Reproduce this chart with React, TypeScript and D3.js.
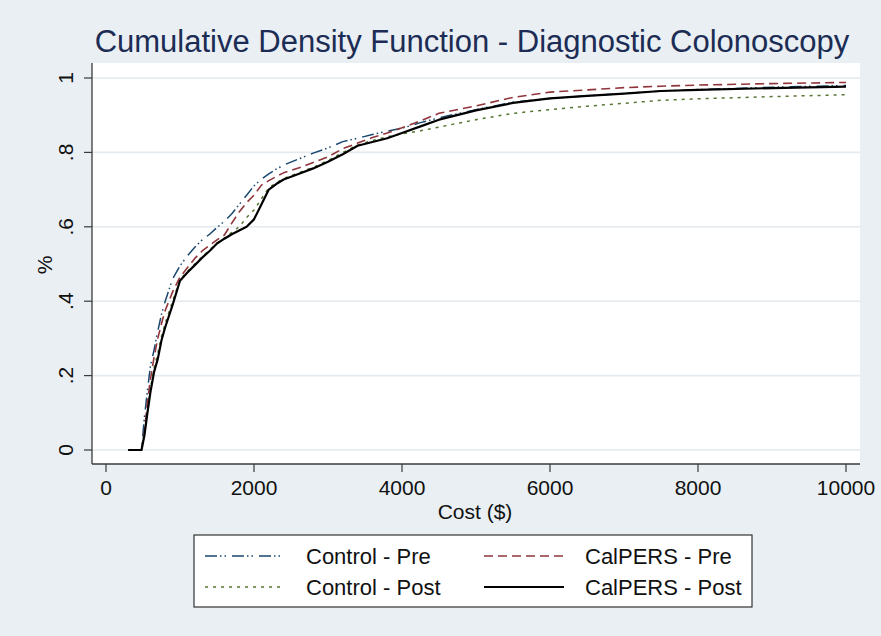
import React, {useRef, useEffect} from 'react';
import * as d3 from 'd3';

const W = 881;
const H = 636;
const FONT = '"Liberation Sans", Arial, Helvetica, sans-serif';

// cost grid ($) the curves were read at
const costs = [
  300, 480, 520, 560, 600, 650, 700, 750, 800, 900, 1000, 1100, 1200, 1300, 1400, 1500, 1600, 1700,
  1800, 1900, 2000, 2100, 2200, 2300, 2400, 2600, 2800, 3000, 3200, 3400, 3600, 3800, 4000, 4250,
  4500, 5000, 5500, 6000, 6500, 7000, 7500, 8000, 9000, 10000,
];

const controlPre = [
  0, 0, 0.09, 0.16, 0.225, 0.27, 0.32, 0.365, 0.4, 0.46, 0.495, 0.522, 0.545, 0.565, 0.58, 0.598,
  0.615, 0.635, 0.66, 0.685, 0.71, 0.728, 0.742, 0.755, 0.766, 0.782, 0.798, 0.812, 0.829, 0.838,
  0.848, 0.857, 0.865, 0.88, 0.893, 0.915, 0.935, 0.945, 0.952, 0.958, 0.965, 0.969, 0.975, 0.98,
];
const controlPost = [
  0, 0, 0.05, 0.11, 0.165, 0.22, 0.26, 0.305, 0.34, 0.4, 0.458, 0.48, 0.5, 0.52, 0.538, 0.556,
  0.57, 0.585, 0.6, 0.625, 0.645, 0.675, 0.705, 0.718, 0.73, 0.745, 0.76, 0.778, 0.8, 0.82, 0.832,
  0.842, 0.85, 0.858, 0.868, 0.888, 0.905, 0.915, 0.924, 0.932, 0.94, 0.944, 0.95, 0.955,
];
const calpersPre = [
  0, 0, 0.05, 0.13, 0.19, 0.25, 0.3, 0.34, 0.375, 0.425, 0.465, 0.49, 0.515, 0.535, 0.55, 0.565,
  0.578, 0.61, 0.64, 0.665, 0.685, 0.712, 0.724, 0.735, 0.745, 0.758, 0.773, 0.788, 0.81, 0.825,
  0.84, 0.852, 0.866, 0.885, 0.905, 0.925, 0.948, 0.962, 0.968, 0.974, 0.978, 0.981, 0.985, 0.988,
];
const calpersPost = [
  0, 0, 0.04, 0.1, 0.155, 0.21, 0.245, 0.295, 0.33, 0.39, 0.455, 0.477, 0.497, 0.517, 0.535, 0.555,
  0.568, 0.58, 0.59, 0.6, 0.62, 0.66, 0.7, 0.715, 0.727, 0.742, 0.757, 0.775, 0.795, 0.818, 0.828,
  0.838, 0.852, 0.87, 0.888, 0.913, 0.933, 0.945, 0.952, 0.958, 0.965, 0.968, 0.973, 0.977,
];

const xTicks = [0, 2000, 4000, 6000, 8000, 10000];
const yTicks = [0, 0.2, 0.4, 0.6, 0.8, 1];
const yTickLabels = ['0', '.2', '.4', '.6', '.8', '1'];

const series = [
  {name: 'Control - Pre', values: controlPre, color: '#1a476f', width: 1.5, dash: '12,3,1.5,3,1.5,6'},
  {name: 'Control - Post', values: controlPost, color: '#55752f', width: 1.5, dash: '3,5'},
  {name: 'CalPERS - Pre', values: calpersPre, color: '#90353b', width: 1.6, dash: '9,5'},
  {name: 'CalPERS - Post', values: calpersPost, color: '#000000', width: 2.2, dash: null},
];

const plot = {left: 92, right: 860, top: 63, bottom: 464};

const draw = (el: SVGSVGElement) => {
  const svg = d3.select(el);
  svg.selectAll('*').remove();

  const x = d3.scaleLinear().domain([0, 10000]).range([106, 846]);
  const y = d3.scaleLinear().domain([0, 1]).range([450, 78]);

  svg.append('rect').attr('width', W).attr('height', H).attr('fill', '#e9eff3');
  svg
  .append('rect')
  .attr('x', plot.left)
  .attr('y', plot.top)
  .attr('width', plot.right - plot.left)
  .attr('height', plot.bottom - plot.top)
  .attr('fill', '#ffffff');

  // title
  svg
  .append('text')
  .attr('x', 472)
  .attr('y', 52)
  .attr('text-anchor', 'middle')
  .attr('font-family', FONT)
  .attr('font-size', 31)
  .attr('fill', '#1c2c54')
  .text('Cumulative Density Function - Diagnostic Colonoscopy');

  // gridlines
  svg
  .append('g')
  .selectAll('line')
  .data(yTicks)
  .join('line')
  .attr('x1', plot.left)
  .attr('x2', plot.right)
  .attr('y1', d => y(d))
  .attr('y2', d => y(d))
  .attr('stroke', '#e3eaee')
  .attr('stroke-width', 1.6);

  // curves
  const line = d3
  .line<number>()
  .x((_, i) => x(costs[i]))
  .y(d => y(d));

  svg
  .append('g')
  .selectAll('path')
  .data(series)
  .join('path')
  .attr('fill', 'none')
  .attr('stroke', d => d.color)
  .attr('stroke-width', d => d.width)
  .attr('stroke-dasharray', d => d.dash)
  .attr('stroke-linejoin', 'round')
  .attr('d', d => line(d.values));

  // axes
  const axisColor = '#3a3a3a';
  const yAxis = svg.append('g').attr('transform', `translate(${plot.left},0)`);
  yAxis
  .append('line')
  .attr('y1', plot.top)
  .attr('y2', plot.bottom)
  .attr('stroke', axisColor)
  .attr('stroke-width', 1.3);
  yAxis
  .selectAll('.tick')
  .data(yTicks)
  .join('line')
  .attr('x1', 0)
  .attr('x2', -8)
  .attr('y1', d => y(d))
  .attr('y2', d => y(d))
  .attr('stroke', axisColor)
  .attr('stroke-width', 1.2);
  svg
  .append('g')
  .selectAll('text')
  .data(yTicks)
  .join('text')
  .attr('transform', d => `translate(73,${y(d)}) rotate(-90)`)
  .attr('text-anchor', 'middle')
  .attr('font-family', FONT)
  .attr('font-size', 21)
  .attr('fill', '#111')
  .text((_, i) => yTickLabels[i]);

  const xAxis = svg.append('g').attr('transform', `translate(0,${plot.bottom})`);
  xAxis
  .append('line')
  .attr('x1', plot.left)
  .attr('x2', plot.right)
  .attr('stroke', axisColor)
  .attr('stroke-width', 1.3);
  xAxis
  .selectAll('.tick')
  .data(xTicks)
  .join('line')
  .attr('x1', d => x(d))
  .attr('x2', d => x(d))
  .attr('y1', 0)
  .attr('y2', 8)
  .attr('stroke', axisColor)
  .attr('stroke-width', 1.2);
  xAxis
  .selectAll('text')
  .data(xTicks)
  .join('text')
  .attr('x', d => x(d))
  .attr('y', 31)
  .attr('text-anchor', 'middle')
  .attr('font-family', FONT)
  .attr('font-size', 21)
  .attr('fill', '#111')
  .text(d => String(d));

  svg
  .append('text')
  .attr('x', 475)
  .attr('y', 519)
  .attr('text-anchor', 'middle')
  .attr('font-family', FONT)
  .attr('font-size', 21)
  .attr('fill', '#111')
  .text('Cost ($)');

  svg
  .append('text')
  .attr('transform', 'translate(52,265) rotate(-90)')
  .attr('text-anchor', 'middle')
  .attr('font-family', FONT)
  .attr('font-size', 21)
  .attr('fill', '#111')
  .text('%');

  // legend
  const legend = svg.append('g');
  legend
  .append('rect')
  .attr('x', 194)
  .attr('y', 535)
  .attr('width', 558)
  .attr('height', 72)
  .attr('fill', '#ffffff')
  .attr('stroke', '#333')
  .attr('stroke-width', 1.2);

  const legendOrder = [0, 2, 1, 3];
  const item = legend
  .selectAll('g')
  .data(legendOrder.map(i => series[i]))
  .join('g')
  .attr('transform', (_, i) => `translate(${i % 2 === 0 ? 205 : 484},${i < 2 ? 556 : 587})`);
  item
  .append('line')
  .attr('x1', 0)
  .attr('x2', 80)
  .attr('stroke', d => d.color)
  .attr('stroke-width', d => d.width)
  .attr('stroke-dasharray', d => d.dash);
  item
  .append('text')
  .attr('x', 101)
  .attr('y', 8)
  .attr('font-family', FONT)
  .attr('font-size', 22)
  .attr('fill', '#111')
  .text(d => d.name);
};

export default function App() {
  const ref = useRef<SVGSVGElement>(null);
  useEffect(() => {
    if (ref.current) draw(ref.current);
  }, []);
  return (
    <svg
      ref={ref}
      width={W}
      height={H}
      style={{position: 'absolute', left: 0, top: 0, display: 'block'}}
    />
  );
}
